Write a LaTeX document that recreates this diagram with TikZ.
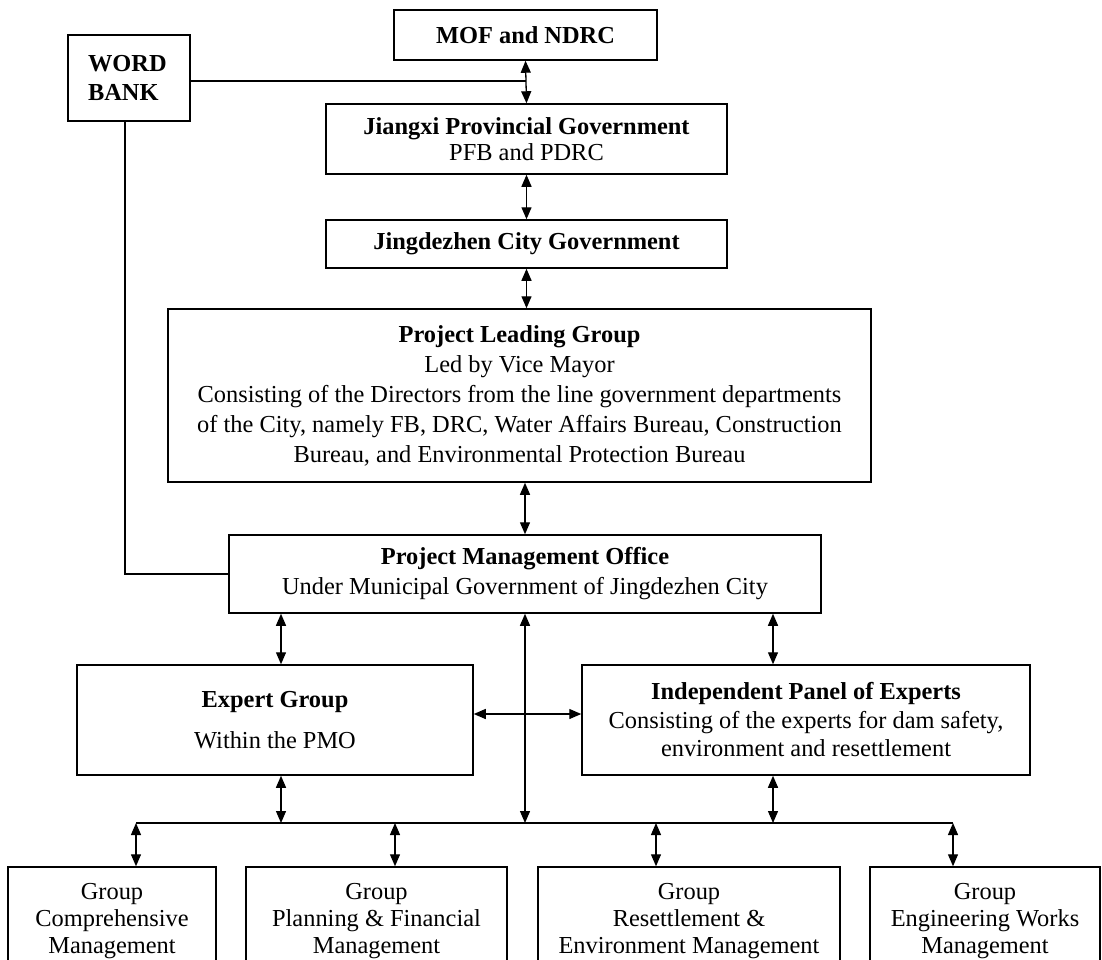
\documentclass[tikz,border=0pt]{standalone}
\usepackage{fontspec}
\setmainfont{Liberation Serif}
\usetikzlibrary{arrows.meta}
\begin{document}
\begin{tikzpicture}[x=1pt,y=-1pt,
  box/.style={draw, line width=1.5pt, inner sep=0pt, align=center, font=\fontsize{24.4}{28.5}\selectfont},
  dbl/.style={{Triangle[length=12pt,width=10pt]}-{Triangle[length=12pt,width=10pt]}, line width=1.3pt},
  ln/.style={line width=1.5pt}]
\useasboundingbox (0,0) rectangle (1102,959);
\clip (0,0) rectangle (1102,959);

% boxes
\node[box, align=left, text width=82pt, inner xsep=20pt, minimum height=86pt] (wb) at (129,78) {\textbf{WORD}\\\textbf{BANK}};
\node[box, minimum width=263pt, minimum height=50pt] (mof) at (525.5,35) {\textbf{MOF and NDRC}};
\node[box, minimum width=401pt, minimum height=70pt, font=\fontsize{24.4}{26}\selectfont] (jx) at (526.5,139) {\textbf{Jiangxi Provincial Government}\\PFB and PDRC};
\node[box, minimum width=401pt, minimum height=48pt] (jd) at (526.5,244) {\textbf{Jingdezhen City Government}};
\node[box, minimum width=703pt, minimum height=173pt, font=\fontsize{24.4}{30}\selectfont] (plg) at (519.5,395.5) {\textbf{Project Leading Group}\\Led by Vice Mayor\\Consisting of the Directors from the line government departments\\of the City, namely FB, DRC, Water Affairs Bureau, Construction\\Bureau, and Environmental Protection Bureau};
\node[box, minimum width=592pt, minimum height=78pt, font=\fontsize{24.4}{30}\selectfont] (pmo) at (525,574) {\textbf{Project Management Office}\\Under Municipal Government of Jingdezhen City};
\node[box, minimum width=396pt, minimum height=110pt] (eg) at (275,720) {\textbf{Expert Group}\\[13pt]Within the PMO};
\node[box, minimum width=448pt, minimum height=110pt] (ip) at (806,720) {\textbf{Independent Panel of Experts}\\Consisting of the experts for dam safety,\\environment and resettlement};
\node[box, minimum width=208pt, minimum height=108pt, font=\fontsize{24.4}{27}\selectfont] (g1) at (112,921) {Group\\Comprehensive\\Management};
\node[box, minimum width=261pt, minimum height=108pt, font=\fontsize{24.4}{27}\selectfont] (g2) at (376.5,921) {Group\\Planning \& Financial\\Management};
\node[box, minimum width=302pt, minimum height=108pt, font=\fontsize{24.4}{27}\selectfont] (g3) at (689,921) {Group\\Resettlement \&\\Environment Management};
\node[box, minimum width=230pt, minimum height=108pt, font=\fontsize{24.4}{27}\selectfont] (g4) at (985,921) {Group\\Engineering Works\\Management};

% bus coordinates
\coordinate (busL) at (136,823);
\coordinate (busR) at (953,823);
\coordinate (b2) at (395,823);
\coordinate (b3) at (656,823);
\coordinate (eb) at (281,823);
\coordinate (ib) at (773,823);

% top chain
\draw[dbl] (mof.south) -- (jx.north);
\draw[dbl] (jx.south) -- (jd.north);
\draw[dbl] (jd.south) -- (jd.south |- plg.north);
\draw[dbl] (pmo.north |- plg.south) -- (pmo.north);

% world bank links
\draw[ln] ([yshift=-3pt]wb.east) -- ([yshift=-3pt]wb.east -| mof.south);
\draw[ln] ([xshift=-4pt]wb.south) |- (pmo.west);

% PMO to expert groups
\draw[dbl] (eb |- pmo.south) -- (eb |- eg.north);
\draw[dbl] (ib |- pmo.south) -- (ib |- ip.north);
\draw[dbl] ([yshift=6pt]eg.east) -- ([yshift=6pt]ip.west);
\draw[dbl] (pmo.south) -- (pmo.south |- busL);

% expert groups to bus
\draw[dbl] (eb |- eg.south) -- (eb);
\draw[dbl] (ib |- ip.south) -- (ib);

% bus
\draw[ln] (busL) -- (busR);

% bus to groups
\draw[dbl] (busL) -- (busL |- g1.north);
\draw[dbl] (b2) -- (b2 |- g2.north);
\draw[dbl] (b3) -- (b3 |- g3.north);
\draw[dbl] (busR) -- (busR |- g4.north);
\end{tikzpicture}
\end{document}
